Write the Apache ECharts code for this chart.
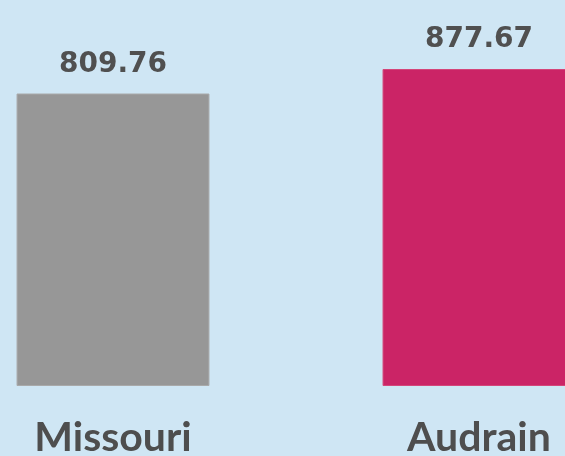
<!DOCTYPE html>
<html>
<head>
<meta charset="utf-8">
<style>
  html, body { margin: 0; padding: 0; background: #cfe6f4; }
  #chart { width: 565px; height: 456px; }
</style>
<script src="https://cdn.jsdelivr.net/npm/echarts@6/dist/echarts.min.js"></script>
</head>
<body>
<div id="chart"></div>
<script>
const categories = ['Missouri', 'Audrain'];
const values = [809.76, 877.67];
const barColors = ['#979797', '#cb2466'];
const barBorders = ['#a9a9a9', '#d44579'];

const chart = echarts.init(document.getElementById('chart'), null, { renderer: 'canvas' });
chart.setOption({
  backgroundColor: '#cfe6f4',
  animation: false,
  grid: { left: -70, right: -97, top: 69, bottom: 70, containLabel: false, outerBoundsMode: 'none' },
  xAxis: {
    type: 'category',
    data: categories,
    axisLine: { show: false },
    axisTick: { show: false },
    axisLabel: {
      margin: 31,
      fontFamily: 'Lato',
      fontWeight: 'bold',
      fontSize: 41,
      color: '#4e4e4e'
    }
  },
  yAxis: {
    type: 'value',
    min: 0,
    max: 877.67,
    show: false,
    splitLine: { show: false }
  },
  series: [{
    type: 'bar',
    barWidth: '52.7%',
    data: values.map((v, i) => ({ value: v, itemStyle: { color: barColors[i], borderColor: barBorders[i], borderWidth: 1 } })),
    label: {
      show: true,
      position: 'top',
      distance: 15,
      formatter: p => p.value.toFixed(2),
      fontFamily: 'DejaVu Sans',
      fontWeight: 'bold',
      fontSize: 28,
      color: '#505050'
    }
  }]
});
</script>
</body>
</html>
